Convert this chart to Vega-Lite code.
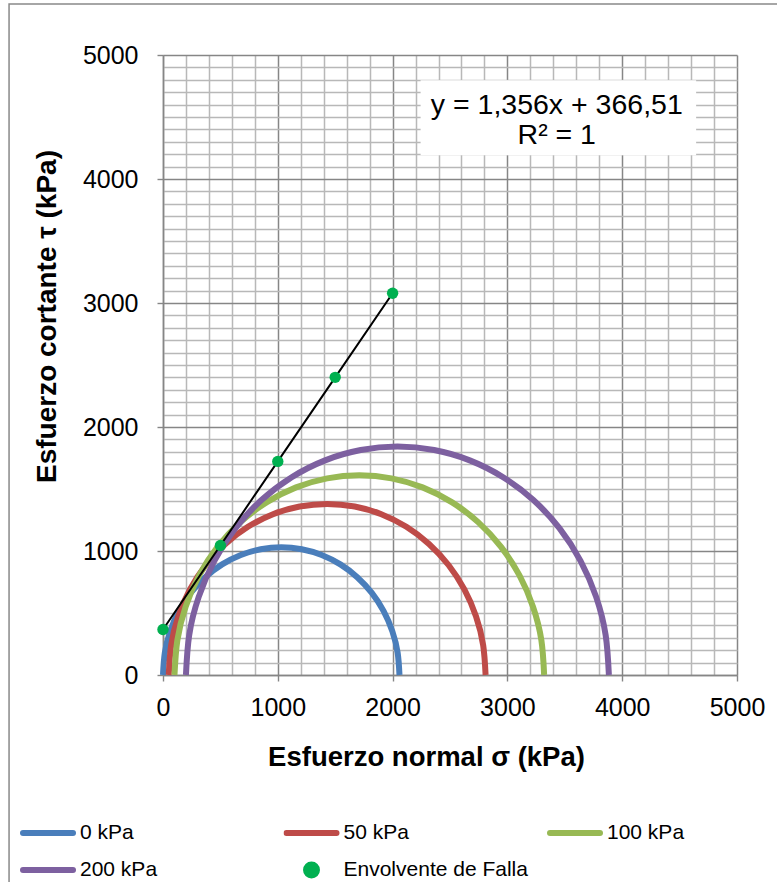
{
  "$schema": "https://vega.github.io/schema/vega-lite/v6.json",
  "width": 574,
  "height": 620,
  "autosize": {"type": "none"},
  "padding": {"left": 163, "top": 55, "right": 40, "bottom": 207},
  "background": "white",
  "config": {
    "view": {"stroke": null},
    "font": "Liberation Sans",
    "text": {"font": "Liberation Sans"}
  },
  "datasets": {
    "circulos": [
      {"serie": "0 kPa", "i": 0, "sigma": 0, "tau": 0},
      {"serie": "0 kPa", "i": 1, "sigma": 16, "tau": 179},
      {"serie": "0 kPa", "i": 2, "sigma": 62, "tau": 352},
      {"serie": "0 kPa", "i": 3, "sigma": 138, "tau": 515},
      {"serie": "0 kPa", "i": 4, "sigma": 241, "tau": 662},
      {"serie": "0 kPa", "i": 5, "sigma": 368, "tau": 789},
      {"serie": "0 kPa", "i": 6, "sigma": 515, "tau": 892},
      {"serie": "0 kPa", "i": 7, "sigma": 678, "tau": 968},
      {"serie": "0 kPa", "i": 8, "sigma": 851, "tau": 1014},
      {"serie": "0 kPa", "i": 9, "sigma": 1030, "tau": 1030},
      {"serie": "0 kPa", "i": 10, "sigma": 1209, "tau": 1014},
      {"serie": "0 kPa", "i": 11, "sigma": 1382, "tau": 968},
      {"serie": "0 kPa", "i": 12, "sigma": 1545, "tau": 892},
      {"serie": "0 kPa", "i": 13, "sigma": 1692, "tau": 789},
      {"serie": "0 kPa", "i": 14, "sigma": 1819, "tau": 662},
      {"serie": "0 kPa", "i": 15, "sigma": 1922, "tau": 515},
      {"serie": "0 kPa", "i": 16, "sigma": 1998, "tau": 352},
      {"serie": "0 kPa", "i": 17, "sigma": 2044, "tau": 179},
      {"serie": "0 kPa", "i": 18, "sigma": 2060, "tau": 0},
      {"serie": "50 kPa", "i": 0, "sigma": 50, "tau": 0},
      {"serie": "50 kPa", "i": 1, "sigma": 71, "tau": 240},
      {"serie": "50 kPa", "i": 2, "sigma": 133, "tau": 472},
      {"serie": "50 kPa", "i": 3, "sigma": 235, "tau": 690},
      {"serie": "50 kPa", "i": 4, "sigma": 373, "tau": 887},
      {"serie": "50 kPa", "i": 5, "sigma": 543, "tau": 1057},
      {"serie": "50 kPa", "i": 6, "sigma": 740, "tau": 1195},
      {"serie": "50 kPa", "i": 7, "sigma": 958, "tau": 1297},
      {"serie": "50 kPa", "i": 8, "sigma": 1190, "tau": 1359},
      {"serie": "50 kPa", "i": 9, "sigma": 1430, "tau": 1380},
      {"serie": "50 kPa", "i": 10, "sigma": 1670, "tau": 1359},
      {"serie": "50 kPa", "i": 11, "sigma": 1902, "tau": 1297},
      {"serie": "50 kPa", "i": 12, "sigma": 2120, "tau": 1195},
      {"serie": "50 kPa", "i": 13, "sigma": 2317, "tau": 1057},
      {"serie": "50 kPa", "i": 14, "sigma": 2487, "tau": 887},
      {"serie": "50 kPa", "i": 15, "sigma": 2625, "tau": 690},
      {"serie": "50 kPa", "i": 16, "sigma": 2727, "tau": 472},
      {"serie": "50 kPa", "i": 17, "sigma": 2789, "tau": 240},
      {"serie": "50 kPa", "i": 18, "sigma": 2810, "tau": 0},
      {"serie": "100 kPa", "i": 0, "sigma": 100, "tau": 0},
      {"serie": "100 kPa", "i": 1, "sigma": 125, "tau": 280},
      {"serie": "100 kPa", "i": 2, "sigma": 197, "tau": 551},
      {"serie": "100 kPa", "i": 3, "sigma": 316, "tau": 805},
      {"serie": "100 kPa", "i": 4, "sigma": 477, "tau": 1035},
      {"serie": "100 kPa", "i": 5, "sigma": 675, "tau": 1233},
      {"serie": "100 kPa", "i": 6, "sigma": 905, "tau": 1394},
      {"serie": "100 kPa", "i": 7, "sigma": 1159, "tau": 1513},
      {"serie": "100 kPa", "i": 8, "sigma": 1430, "tau": 1586},
      {"serie": "100 kPa", "i": 9, "sigma": 1710, "tau": 1610},
      {"serie": "100 kPa", "i": 10, "sigma": 1990, "tau": 1586},
      {"serie": "100 kPa", "i": 11, "sigma": 2261, "tau": 1513},
      {"serie": "100 kPa", "i": 12, "sigma": 2515, "tau": 1394},
      {"serie": "100 kPa", "i": 13, "sigma": 2745, "tau": 1233},
      {"serie": "100 kPa", "i": 14, "sigma": 2943, "tau": 1035},
      {"serie": "100 kPa", "i": 15, "sigma": 3104, "tau": 805},
      {"serie": "100 kPa", "i": 16, "sigma": 3223, "tau": 551},
      {"serie": "100 kPa", "i": 17, "sigma": 3296, "tau": 280},
      {"serie": "100 kPa", "i": 18, "sigma": 3320, "tau": 0},
      {"serie": "200 kPa", "i": 0, "sigma": 200, "tau": 0},
      {"serie": "200 kPa", "i": 1, "sigma": 228, "tau": 320},
      {"serie": "200 kPa", "i": 2, "sigma": 311, "tau": 630},
      {"serie": "200 kPa", "i": 3, "sigma": 447, "tau": 921},
      {"serie": "200 kPa", "i": 4, "sigma": 631, "tau": 1184},
      {"serie": "200 kPa", "i": 5, "sigma": 858, "tau": 1411},
      {"serie": "200 kPa", "i": 6, "sigma": 1121, "tau": 1595},
      {"serie": "200 kPa", "i": 7, "sigma": 1412, "tau": 1731},
      {"serie": "200 kPa", "i": 8, "sigma": 1722, "tau": 1814},
      {"serie": "200 kPa", "i": 9, "sigma": 2042, "tau": 1842},
      {"serie": "200 kPa", "i": 10, "sigma": 2362, "tau": 1814},
      {"serie": "200 kPa", "i": 11, "sigma": 2672, "tau": 1731},
      {"serie": "200 kPa", "i": 12, "sigma": 2963, "tau": 1595},
      {"serie": "200 kPa", "i": 13, "sigma": 3226, "tau": 1411},
      {"serie": "200 kPa", "i": 14, "sigma": 3453, "tau": 1184},
      {"serie": "200 kPa", "i": 15, "sigma": 3637, "tau": 921},
      {"serie": "200 kPa", "i": 16, "sigma": 3773, "tau": 630},
      {"serie": "200 kPa", "i": 17, "sigma": 3856, "tau": 320},
      {"serie": "200 kPa", "i": 18, "sigma": 3884, "tau": 0}
    ],
    "envolvente": [
      {"serie": "Envolvente de Falla", "sigma": 0, "tau": 366.51},
      {"serie": "Envolvente de Falla", "sigma": 500, "tau": 1044.51},
      {"serie": "Envolvente de Falla", "sigma": 1000, "tau": 1722.51},
      {"serie": "Envolvente de Falla", "sigma": 1500, "tau": 2400.51},
      {"serie": "Envolvente de Falla", "sigma": 2000, "tau": 3078.51}
    ]
  },
  "encoding": {
    "x": {
      "type": "quantitative",
      "scale": {"domain": [0, 5000], "nice": false, "zero": false},
      "axis": {
        "title": "Esfuerzo normal σ (kPa)",
        "tickCount": 25,
        "format": "d",
        "labelExpr": "datum.value % 1000 === 0 ? datum.label : ''",
        "labelOverlap": false,
        "labelFlush": false,
        "labelFont": "Liberation Sans",
        "labelFontSize": 25,
        "labelColor": "#000000",
        "labelPadding": 14,
        "grid": true,
        "gridColor": {"condition": {"test": "datum.value % 1000 === 0", "value": "#868686"}, "value": "#b8b8b8"},
        "gridWidth": 1.5,
        "tickColor": {"condition": {"test": "datum.value % 1000 === 0", "value": "#868686"}, "value": "transparent"},
        "tickSize": 6,
        "tickWidth": 1.4,
        "domainColor": "#868686",
        "domainWidth": 1.5,
        "titleFont": "Liberation Sans",
        "titleFontSize": 27.5,
        "titleFontWeight": "bold",
        "titleColor": "#000000",
        "titleX": 263,
        "titleY": 90,
        "titleAlign": "center",
        "titleBaseline": "alphabetic"
      }
    },
    "y": {
      "type": "quantitative",
      "scale": {"domain": [0, 5000], "nice": false, "zero": false},
      "axis": {
        "title": "Esfuerzo cortante τ (kPa)",
        "tickCount": 50,
        "format": "d",
        "labelExpr": "datum.value % 1000 === 0 ? datum.label : ''",
        "labelOverlap": false,
        "labelFlush": false,
        "labelFont": "Liberation Sans",
        "labelFontSize": 25,
        "labelColor": "#000000",
        "labelPadding": 19,
        "grid": true,
        "gridColor": {"condition": {"test": "datum.value % 1000 === 0", "value": "#868686"}, "value": "#b8b8b8"},
        "gridWidth": 1.5,
        "tickColor": {"condition": {"test": "datum.value % 1000 === 0", "value": "#868686"}, "value": "transparent"},
        "tickSize": 6,
        "tickWidth": 1.4,
        "domainColor": "#868686",
        "domainWidth": 1.5,
        "titleFont": "Liberation Sans",
        "titleFontSize": 28,
        "titleFontWeight": "bold",
        "titleColor": "#000000",
        "titleAngle": -90,
        "titleX": -108,
        "titleY": 261,
        "titleAlign": "center",
        "titleBaseline": "alphabetic"
      }
    }
  },
  "layer": [
    {
      "data": {"values": [{}]},
      "mark": {"type": "rect", "filled": false, "stroke": "#898989", "strokeWidth": 1.5},
      "encoding": {
        "x": {"datum": -1341},
        "x2": {"datum": 6000},
        "y": {"datum": 5411},
        "y2": {"datum": -2000}
      }
    },
    {
      "data": {"name": "circulos"},
      "mark": {"type": "line", "interpolate": "natural", "strokeWidth": 6, "strokeCap": "butt"},
      "encoding": {
        "x": {"field": "sigma", "type": "quantitative"},
        "y": {"field": "tau", "type": "quantitative"},
        "order": {"field": "i", "type": "quantitative"},
        "color": {
          "field": "serie",
          "type": "nominal",
          "scale": {
            "domain": ["0 kPa", "50 kPa", "100 kPa", "200 kPa", "Envolvente de Falla"],
            "range": ["#4a7ebb", "#be4b48", "#98b954", "#7d60a0", "#00b050"]
          },
          "legend": {
            "title": null,
            "orient": "none",
            "legendX": -143,
            "legendY": 764,
            "direction": "horizontal",
            "columns": 3,
            "gridAlign": "all",
            "columnPadding": 18.5,
            "rowPadding": 9,
            "clipHeight": 28,
            "symbolType": "stroke",
            "symbolSize": 2500,
            "symbolStrokeWidth": 6,
            "labelFont": "Liberation Sans",
            "labelFontSize": 21,
            "labelColor": "#000000",
            "labelOffset": 4,
            "labelLimit": 400,
            "encode": {
              "symbols": {
                "update": {
                  "shape": {"signal": "datum.value === 'Envolvente de Falla' ? 'circle' : 'stroke'"},
                  "size": {"signal": "datum.value === 'Envolvente de Falla' ? 120 : 2500"},
                  "fill": {"signal": "datum.value === 'Envolvente de Falla' ? scale('color', datum.value) : 'transparent'"},
                  "stroke": {"signal": "datum.value === 'Envolvente de Falla' ? 'transparent' : scale('color', datum.value)"},
                  "strokeWidth": {"value": 6},
                  "strokeCap": {"value": "round"},
                  "opacity": {"value": 1}
                }
              }
            }
          }
        }
      }
    },
    {
      "data": {"name": "envolvente"},
      "mark": {"type": "line", "color": "#000000", "strokeWidth": 2},
      "encoding": {
        "x": {"field": "sigma", "type": "quantitative"},
        "y": {"field": "tau", "type": "quantitative"}
      }
    },
    {
      "data": {"name": "envolvente"},
      "mark": {"type": "point", "filled": true, "size": 130, "opacity": 1},
      "encoding": {
        "x": {"field": "sigma", "type": "quantitative"},
        "y": {"field": "tau", "type": "quantitative"},
        "color": {"field": "serie", "type": "nominal"}
      }
    },
    {
      "data": {"values": [{}]},
      "mark": {"type": "rect", "fill": "#ffffff"},
      "encoding": {
        "x": {"datum": 2244},
        "x2": {"datum": 4644},
        "y": {"datum": 4796},
        "y2": {"datum": 4191}
      }
    },
    {
      "data": {"values": [{}]},
      "mark": {"type": "text", "text": "y = 1,356x + 366,51", "fontSize": 28.5, "align": "center", "baseline": "alphabetic", "color": "#000000"},
      "encoding": {
        "x": {"datum": 3430},
        "y": {"datum": 4527}
      }
    },
    {
      "data": {"values": [{}]},
      "mark": {"type": "text", "text": "R² = 1", "fontSize": 28.5, "align": "center", "baseline": "alphabetic", "color": "#000000"},
      "encoding": {
        "x": {"datum": 3430},
        "y": {"datum": 4280}
      }
    }
  ]
}
